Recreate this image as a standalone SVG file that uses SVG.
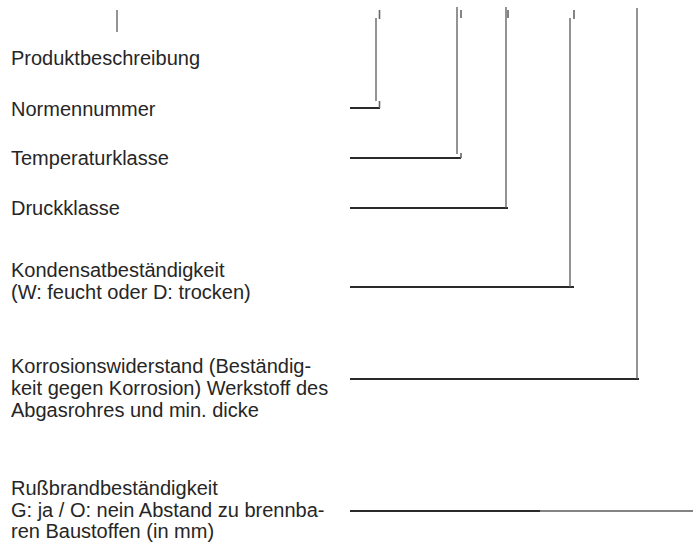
<svg xmlns="http://www.w3.org/2000/svg" width="693" height="543" viewBox="0 0 693 543">
<style>
  text { font-family: "Liberation Sans", Arial, sans-serif; font-size: 20px; fill: #262626; }
  .h { stroke: #2a2a2a; stroke-width: 2; fill: none; }
  .v { stroke: #5a5a5a; stroke-width: 1.3; fill: none; }
  .t { stroke: #666; stroke-width: 1.6; fill: none; }
</style>
<rect width="693" height="543" fill="#fff"/>
<g id="top-tick"><line class="v" x1="117" y1="10" x2="117" y2="32"/></g>
<g id="produktbeschreibung"><text x="11" y="65">Produktbeschreibung</text></g>
<g id="normennummer"><text x="11" y="116">Normennummer</text></g>
<g id="temperaturklasse"><text x="11" y="165">Temperaturklasse</text></g>
<g id="druckklasse"><text x="11" y="215">Druckklasse</text></g>
<g id="kondensat"><text x="11" y="277">Kondensatbeständigkeit</text><text x="11" y="299">(W: feucht oder D: trocken)</text></g>
<g id="korrosion"><text x="11" y="373">Korrosionswiderstand (Beständig-</text><text x="11" y="395">keit gegen Korrosion) Werkstoff des</text><text x="11" y="417">Abgasrohres und min. dicke</text></g>
<g id="russbrand"><text x="11" y="495">Rußbrandbeständigkeit</text><text x="11" y="517">G: ja / O: nein Abstand zu brennba-</text><text x="11" y="538">ren Baustoffen (in mm)</text></g>
<g id="connectors">
  <line class="h" x1="350" y1="108" x2="380" y2="108"/><line class="v" x1="376" y1="18" x2="376" y2="101"/><line class="t" x1="379.5" y1="10" x2="379.5" y2="19"/><line class="t" x1="379.5" y1="101" x2="379.5" y2="108"/>
  <line class="h" x1="350" y1="158" x2="461" y2="158"/><line class="v" x1="457" y1="7" x2="457" y2="154"/><line class="t" x1="461" y1="10" x2="461" y2="18"/><line class="t" x1="461" y1="153" x2="461" y2="158"/>
  <line class="h" x1="350" y1="208" x2="508" y2="208"/><line class="v" x1="506" y1="7" x2="506" y2="208"/><line class="t" x1="508" y1="10" x2="508" y2="18"/>
  <line class="h" x1="350" y1="287" x2="574" y2="287"/><line class="v" x1="570" y1="18" x2="570" y2="287"/><line class="t" x1="574" y1="10" x2="574" y2="19"/>
  <line class="h" x1="350" y1="379" x2="639" y2="379"/><line class="v" x1="637" y1="8" x2="637" y2="379"/>
  <line class="h" x1="350" y1="511" x2="540" y2="511"/><line class="v" x1="540" y1="511" x2="693" y2="511" style="stroke-width:1.6"/>
</g>
</svg>
